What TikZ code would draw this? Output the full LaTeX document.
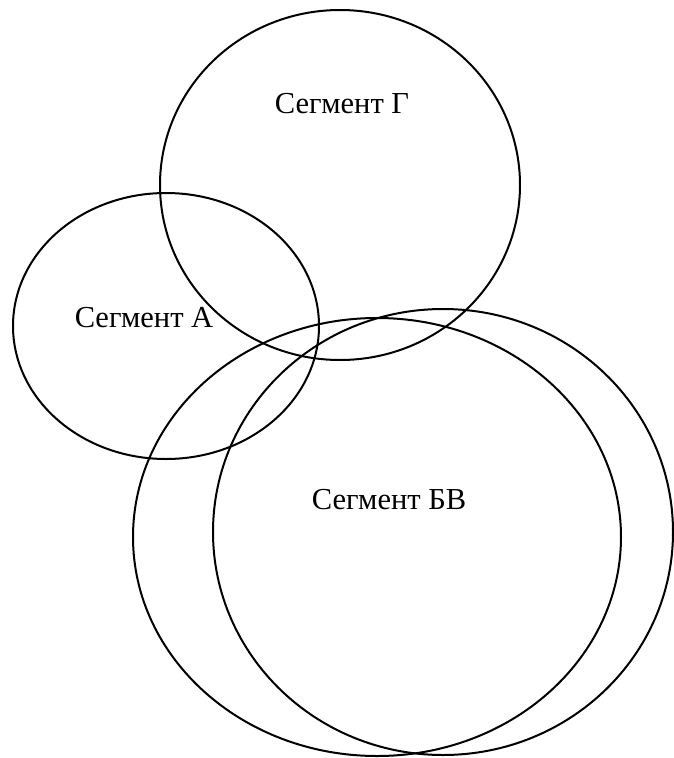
\documentclass[tikz,border=0pt]{standalone}
\usepackage{fontspec}
\setmainfont{Liberation Serif}
\usepackage{tikz}
\tikzstyle{segment} = [line width=2pt, draw=black]
\tikzstyle{seglabel} = [font=\fontsize{30.5}{33}\selectfont, inner sep=0pt, anchor=center]

\begin{document}
\begin{tikzpicture}[x=1pt, y=1pt]
  \useasboundingbox (0,0) rectangle (673,-758);

  % Segments
  \draw[segment] (340,-185) ellipse [x radius=180, y radius=175];
  \draw[segment] (166,-326) ellipse [x radius=153, y radius=133];
  \draw[segment] (377,-537) ellipse [x radius=244, y radius=219];
  \draw[segment] (443,-532) ellipse [x radius=230, y radius=223];

  % Labels
  \node[seglabel] (segG) at (342,-104) {Сегмент Г};
  \node[seglabel] (segA) at (144,-318) {Сегмент А};
  \node[seglabel] (segBV) at (389,-500) {Сегмент БВ};
\end{tikzpicture}
\end{document}
